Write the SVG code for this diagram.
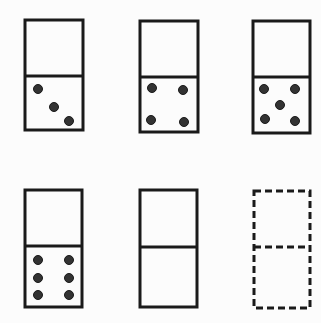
<svg xmlns="http://www.w3.org/2000/svg" width="321" height="323" viewBox="0 0 321 323">
<style>
.box{fill:none;stroke:#1a1a1a;stroke-width:3}
.dash{fill:none;stroke:#1a1a1a;stroke-width:3;stroke-dasharray:7 4}
.pip{fill:#333;stroke:#1a1a1a;stroke-width:1}
</style>
<rect width="321" height="323" fill="#fcfcfc"/>
<g id="domino1">
<rect class="box" x="25" y="20" width="58" height="110"/>
<line class="box" x1="25" y1="76" x2="83" y2="76"/>
<circle class="pip" cx="38" cy="89" r="4.5"/>
<circle class="pip" cx="54" cy="107" r="4.5"/>
<circle class="pip" cx="69" cy="121" r="4.5"/>
</g>
<g id="domino2">
<rect class="box" x="140" y="21" width="58" height="111"/>
<line class="box" x1="140" y1="77" x2="198" y2="77"/>
<circle class="pip" cx="152" cy="88" r="4.5"/>
<circle class="pip" cx="183" cy="90" r="4.5"/>
<circle class="pip" cx="151" cy="120" r="4.5"/>
<circle class="pip" cx="184" cy="122" r="4.5"/>
</g>
<g id="domino3">
<rect class="box" x="253" y="21" width="57" height="112"/>
<line class="box" x1="253" y1="77" x2="310" y2="77"/>
<circle class="pip" cx="264" cy="89" r="4.5"/>
<circle class="pip" cx="295" cy="89" r="4.5"/>
<circle class="pip" cx="280" cy="105" r="4.5"/>
<circle class="pip" cx="265" cy="119" r="4.5"/>
<circle class="pip" cx="295" cy="121" r="4.5"/>
</g>
<g id="domino4">
<rect class="box" x="25" y="190" width="57" height="117"/>
<line class="box" x1="25" y1="246" x2="82" y2="246"/>
<circle class="pip" cx="38" cy="260" r="4.5"/>
<circle class="pip" cx="69" cy="260" r="4.5"/>
<circle class="pip" cx="38" cy="278" r="4.5"/>
<circle class="pip" cx="69" cy="278" r="4.5"/>
<circle class="pip" cx="38" cy="295" r="4.5"/>
<circle class="pip" cx="69" cy="295" r="4.5"/>
</g>
<g id="domino5">
<rect class="box" x="140" y="190" width="57" height="117"/>
<line class="box" x1="140" y1="247" x2="197" y2="247"/>
</g>
<g id="domino6">
<rect class="dash" x="254" y="191" width="56" height="117"/>
<line class="dash" x1="254" y1="247" x2="310" y2="247"/>
</g>
</svg>
